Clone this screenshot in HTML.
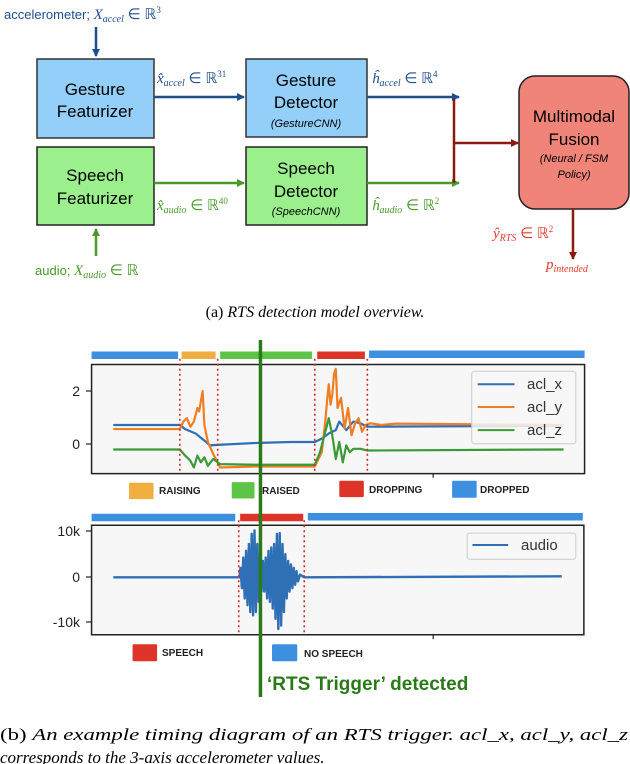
<!DOCTYPE html>
<html><head><meta charset="utf-8"><style>
html,body{margin:0;padding:0;background:#fff;}
svg{display:block;}
.s{font-family:"Liberation Sans",sans-serif;}
.r{font-family:"Liberation Serif",serif;}
</style></head><body>
<svg width="630" height="764" viewBox="0 0 630 764" xmlns="http://www.w3.org/2000/svg">
<defs>
<marker id="ab" markerWidth="8" markerHeight="8" refX="7" refY="4" orient="auto" markerUnits="userSpaceOnUse"><path d="M0,0 L8,4 L0,8 z" fill="#1f4e8c"/></marker>
<marker id="ag" markerWidth="8" markerHeight="8" refX="7" refY="4" orient="auto" markerUnits="userSpaceOnUse"><path d="M0,0 L8,4 L0,8 z" fill="#4a9a2a"/></marker>
<marker id="ar" markerWidth="8" markerHeight="8" refX="7" refY="4" orient="auto" markerUnits="userSpaceOnUse"><path d="M0,0 L8,4 L0,8 z" fill="#8b1a10"/></marker>
</defs>
<text x="4" y="19" class="s" font-size="13" fill="#1f4e8c">accelerometer; <tspan class="r" font-style="italic" font-size="15">X</tspan><tspan class="r" font-style="italic" font-size="10" dy="3">accel</tspan><tspan class="r" font-size="15" dy="-3"> ∈ ℝ</tspan><tspan class="r" font-size="9" dy="-6">3</tspan></text>
<line x1="96" y1="27" x2="96" y2="56" stroke="#1f4e8c" stroke-width="2.5" marker-end="url(#ab)"/>
<rect x="37" y="59" width="117" height="79" fill="#93cff8" stroke="#333" stroke-width="1.5"/>
<text x="95" y="95" text-anchor="middle" class="s" font-size="17">Gesture</text>
<text x="95" y="117" text-anchor="middle" class="s" font-size="17">Featurizer</text>
<rect x="246" y="59" width="121" height="78" fill="#93cff8" stroke="#333" stroke-width="1.5"/>
<text x="306" y="86" text-anchor="middle" class="s" font-size="17">Gesture</text>
<text x="306" y="108" text-anchor="middle" class="s" font-size="17">Detector</text>
<text x="306" y="127" text-anchor="middle" class="s" font-size="11" font-style="italic">(GestureCNN)</text>
<rect x="37" y="147" width="117" height="78" fill="#9bf08d" stroke="#222" stroke-width="1.5"/>
<text x="95" y="181" text-anchor="middle" class="s" font-size="17">Speech</text>
<text x="95" y="204" text-anchor="middle" class="s" font-size="17">Featurizer</text>
<rect x="246" y="147" width="121" height="78" fill="#9bf08d" stroke="#222" stroke-width="1.5"/>
<text x="306" y="174" text-anchor="middle" class="s" font-size="17">Speech</text>
<text x="306" y="197" text-anchor="middle" class="s" font-size="17">Detector</text>
<text x="306" y="215" text-anchor="middle" class="s" font-size="11" font-style="italic">(SpeechCNN)</text>
<rect x="519" y="76" width="110" height="133" rx="16" fill="#f08478" stroke="#222" stroke-width="1.5"/>
<text x="574" y="122" text-anchor="middle" class="s" font-size="17">Multimodal</text>
<text x="574" y="145" text-anchor="middle" class="s" font-size="17">Fusion</text>
<text x="574" y="162" text-anchor="middle" class="s" font-size="11" font-style="italic">(Neural / FSM</text>
<text x="574" y="178" text-anchor="middle" class="s" font-size="11" font-style="italic">Policy)</text>
<line x1="154" y1="97" x2="244" y2="97" stroke="#1f4e8c" stroke-width="2.5" marker-end="url(#ab)"/>
<line x1="367" y1="97" x2="459" y2="97" stroke="#1f4e8c" stroke-width="2.5" marker-end="url(#ab)"/>
<line x1="154" y1="183" x2="244" y2="183" stroke="#4a9a2a" stroke-width="2.5" marker-end="url(#ag)"/>
<line x1="367" y1="183" x2="459" y2="183" stroke="#4a9a2a" stroke-width="2.5" marker-end="url(#ag)"/>
<line x1="454" y1="99" x2="454" y2="183" stroke="#8b1a10" stroke-width="2.5"/>
<line x1="454" y1="143" x2="518" y2="143" stroke="#8b1a10" stroke-width="2.5" marker-end="url(#ar)"/>
<line x1="573" y1="209" x2="573" y2="259" stroke="#8b1a10" stroke-width="2.5" marker-end="url(#ar)"/>
<line x1="96" y1="256" x2="96" y2="229" stroke="#4a9a2a" stroke-width="2.5" marker-end="url(#ag)"/>
<g class="r" font-size="15">
<text x="157" y="83" fill="#1f4e8c"><tspan font-style="italic">x̂</tspan><tspan font-style="italic" font-size="10" dy="3">accel</tspan><tspan dy="-3"> ∈ ℝ</tspan><tspan font-size="9" dy="-6">31</tspan></text>
<text x="372" y="83" fill="#1f4e8c"><tspan font-style="italic">ĥ</tspan><tspan font-style="italic" font-size="10" dy="3">accel</tspan><tspan dy="-3"> ∈ ℝ</tspan><tspan font-size="9" dy="-6">4</tspan></text>
<text x="157" y="210" fill="#4a9a2a"><tspan font-style="italic">x̂</tspan><tspan font-style="italic" font-size="10" dy="3">audio</tspan><tspan dy="-3"> ∈ ℝ</tspan><tspan font-size="9" dy="-6">40</tspan></text>
<text x="372" y="210" fill="#4a9a2a"><tspan font-style="italic">ĥ</tspan><tspan font-style="italic" font-size="10" dy="3">audio</tspan><tspan dy="-3"> ∈ ℝ</tspan><tspan font-size="9" dy="-6">2</tspan></text>
<text x="493" y="238" fill="#e33b2c"><tspan font-style="italic">ŷ</tspan><tspan font-style="italic" font-size="10" dy="3">RTS</tspan><tspan dy="-3"> ∈ ℝ</tspan><tspan font-size="9" dy="-6">2</tspan></text>
<text x="546" y="269" fill="#e33b2c"><tspan font-style="italic">p</tspan><tspan font-style="italic" font-size="10" dy="3">intended</tspan></text>
</g>
<text x="35" y="275" class="s" font-size="13" fill="#4a9a2a">audio; <tspan class="r" font-style="italic" font-size="15">X</tspan><tspan class="r" font-style="italic" font-size="10" dy="3">audio</tspan><tspan class="r" font-size="15" dy="-3"> ∈ ℝ</tspan></text>
<text x="315" y="317" text-anchor="middle" class="r" font-size="16">(a) <tspan font-style="italic">RTS detection model overview.</tspan></text>

<g transform="translate(80,340) scale(0.3504,0.34)" fill="none">
<rect x="33" y="72" width="1407" height="321" fill="#f7f7f7" stroke="#222" stroke-width="1.5" vector-effect="non-scaling-stroke"/>
<rect x="33" y="545" width="1405" height="322" fill="#f7f7f7" stroke="#222" stroke-width="1.5" vector-effect="non-scaling-stroke"/>
<g>
<line x1="33" y1="45" x2="280" y2="45" stroke="#3d8fe0" stroke-width="22"/>
<line x1="290" y1="45" x2="387" y2="45" stroke="#efae3d" stroke-width="22"/>
<line x1="400" y1="45" x2="662" y2="45" stroke="#5cc545" stroke-width="22"/>
<line x1="677" y1="45" x2="813" y2="45" stroke="#dd3328" stroke-width="22"/>
<line x1="825" y1="42" x2="1440" y2="42" stroke="#3d8fe0" stroke-width="22"/>
<line x1="33" y1="522" x2="443" y2="522" stroke="#3d8fe0" stroke-width="22"/>
<line x1="457" y1="522" x2="637" y2="522" stroke="#dd3328" stroke-width="22"/>
<line x1="650" y1="520" x2="1435" y2="520" stroke="#3d8fe0" stroke-width="22"/>
</g>
<g stroke-linejoin="round">
<polyline vector-effect="non-scaling-stroke" stroke="#2e6fb5" stroke-width="2.2" points="95,250 285,250 300,262 330,275 360,300 370,310 400,308 500,303 600,300 670,300 690,290 710,275 730,265 740,240 760,265 780,240 800,245 820,255 1380,252"/>
<polyline vector-effect="non-scaling-stroke" stroke="#ef7d22" stroke-width="2.2" points="95,262 285,262 295,240 305,230 315,255 325,240 335,200 340,210 350,150 355,250 365,300 380,335 400,375 500,372 670,372 690,330 700,240 705,180 710,130 715,190 720,160 725,100 730,85 735,200 745,170 755,260 765,200 775,280 785,245 795,230 805,270 815,250 830,245 860,250 900,246 1380,250"/>
<polyline vector-effect="non-scaling-stroke" stroke="#3a9a35" stroke-width="2.2" points="95,322 285,322 300,340 315,355 325,375 335,340 345,360 355,345 365,370 380,350 400,365 500,367 670,367 685,330 700,270 710,230 720,280 730,350 740,300 750,360 760,310 770,330 780,320 800,320 820,325 1380,322"/>
<polyline vector-effect="non-scaling-stroke" stroke="#2e6fb5" stroke-width="2.4" points="95,698 455,698 458,670 462,730 466,640 470,760 474,620 478,780 482,600 486,800 490,570 494,810 498,560 502,800 506,600 510,770 514,630 518,740 522,650 526,740 530,640 534,760 538,620 542,770 546,610 550,790 554,600 558,820 562,570 566,850 570,568 574,840 578,600 582,800 586,630 590,760 594,650 598,740 602,660 606,730 610,670 614,720 618,680 622,710 628,690 640,698 1375,695"/>
</g>
<g stroke="#d42a22" stroke-width="1.6" stroke-dasharray="2,3">
<line x1="285" y1="55" x2="285" y2="393" vector-effect="non-scaling-stroke"/>
<line x1="393" y1="55" x2="393" y2="393" vector-effect="non-scaling-stroke"/>
<line x1="670" y1="55" x2="670" y2="393" vector-effect="non-scaling-stroke"/>
<line x1="820" y1="55" x2="820" y2="393" vector-effect="non-scaling-stroke"/>
<line x1="453" y1="530" x2="453" y2="867" vector-effect="non-scaling-stroke"/>
<line x1="640" y1="530" x2="640" y2="867" vector-effect="non-scaling-stroke"/>
</g>
<rect x="1118" y="92" width="297" height="213" rx="8" fill="#f7f7f7" fill-opacity="0.85" stroke="#ccc" vector-effect="non-scaling-stroke"/>
<line x1="1135" y1="130" x2="1240" y2="130" stroke="#2e6fb5" stroke-width="2" vector-effect="non-scaling-stroke"/>
<line x1="1135" y1="197" x2="1240" y2="197" stroke="#ef7d22" stroke-width="2" vector-effect="non-scaling-stroke"/>
<line x1="1135" y1="265" x2="1240" y2="265" stroke="#3a9a35" stroke-width="2" vector-effect="non-scaling-stroke"/>
<rect x="1105" y="568" width="310" height="77" rx="8" fill="#f7f7f7" stroke="#ccc" vector-effect="non-scaling-stroke"/>
<line x1="1120" y1="603" x2="1222" y2="603" stroke="#2e6fb5" stroke-width="2" vector-effect="non-scaling-stroke"/>
<rect x="140" y="420" width="70" height="48" rx="3" fill="#efae3d"/>
<rect x="433" y="418" width="65" height="48" rx="3" fill="#5cc545"/>
<rect x="740" y="414" width="70" height="48" rx="3" fill="#dd3328"/>
<rect x="1062" y="414" width="70" height="50" rx="3" fill="#3d8fe0"/>
<rect x="150" y="895" width="70" height="50" rx="3" fill="#dd3328"/>
<rect x="548" y="895" width="72" height="50" rx="3" fill="#3d8fe0"/>
<line x1="1008" y1="393" x2="1008" y2="405" stroke="#222" stroke-width="1.2" vector-effect="non-scaling-stroke"/>
<line x1="1008" y1="867" x2="1008" y2="880" stroke="#222" stroke-width="1.2" vector-effect="non-scaling-stroke"/>
<line x1="515" y1="0" x2="515" y2="1050" stroke="#2a7a1a" stroke-width="3.5" vector-effect="non-scaling-stroke"/>
</g>
<g stroke="#222" stroke-width="1.2">
<line x1="86" y1="391" x2="92" y2="391"/><line x1="86" y1="444" x2="92" y2="444"/>
<line x1="86" y1="531" x2="92" y2="531"/><line x1="86" y1="577" x2="92" y2="577"/><line x1="86" y1="622" x2="92" y2="622"/>
</g>
<g class="s" font-size="14" fill="#222" text-anchor="end">
<text x="80" y="396">2</text><text x="80" y="449">0</text>
<text x="80" y="536">10k</text><text x="80" y="582">0</text><text x="80" y="627">-10k</text>
</g>
<g class="s" font-size="15" fill="#333">
<text x="527" y="389">acl_x</text><text x="527" y="412">acl_y</text><text x="527" y="435">acl_z</text>
<text x="521" y="550">audio</text>
</g>
<g class="s" font-size="10" fill="#222" font-weight="bold">
<text x="159" y="494">RAISING</text><text x="262" y="494">RAISED</text><text x="369" y="493">DROPPING</text><text x="480" y="493">DROPPED</text>
<text x="162" y="656">SPEECH</text><text x="304" y="657">NO SPEECH</text>
</g>
<text x="267" y="690" class="s" font-size="19" font-weight="bold" fill="#2a7a1a">‘RTS Trigger’ detected</text>
<text x="0" y="740" class="r" font-size="17" textLength="628" lengthAdjust="spacingAndGlyphs">(b) <tspan font-style="italic">An example timing diagram of an RTS trigger. acl_x, acl_y, acl_z</tspan></text>
<text x="0" y="763" class="r" font-size="17" font-style="italic">corresponds to the 3-axis accelerometer values.</text>
</svg>
</body></html>
